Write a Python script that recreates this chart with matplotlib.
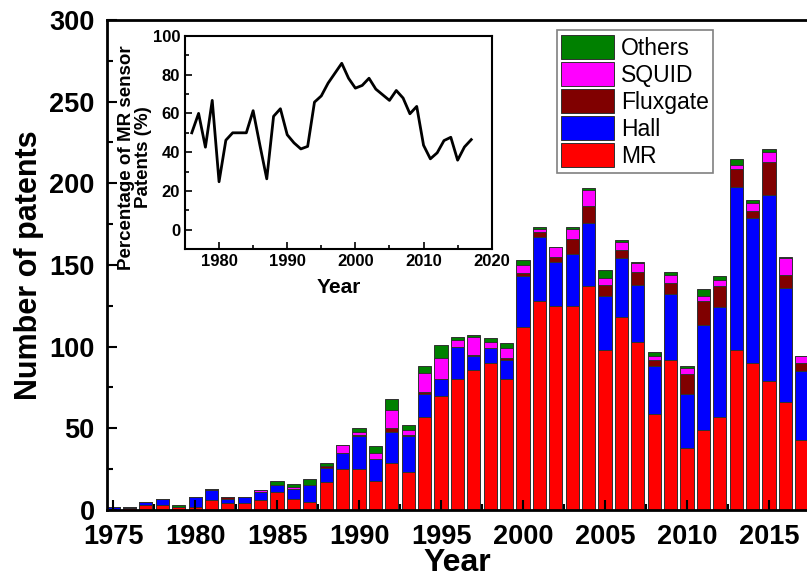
import matplotlib
matplotlib.use("Agg")
import matplotlib.pyplot as plt
from matplotlib.ticker import MultipleLocator

plt.rcParams['font.family'] = ['Liberation Sans', 'DejaVu Sans']

years = [1975, 1976, 1977, 1978, 1979, 1980, 1981, 1982, 1983, 1984,
         1985, 1986, 1987, 1988, 1989, 1990, 1991, 1992, 1993, 1994,
         1995, 1996, 1997, 1998, 1999, 2000, 2001, 2002, 2003, 2004,
         2005, 2006, 2007, 2008, 2009, 2010, 2011, 2012, 2013, 2014,
         2015, 2016, 2017]
mr = [0, 1, 3, 3, 2, 2, 6, 4, 4, 6, 11, 7, 5, 17, 25, 25, 18, 29, 23, 57,
      70, 80, 86, 90, 80, 112, 128, 125, 125, 137, 98, 118, 103, 59, 92, 38,
      49, 57, 98, 90, 79, 66, 43]
hall = [2, 1, 2, 4, 0, 6, 6, 3, 4, 5, 4, 6, 10, 9, 10, 20, 13, 19, 22, 14,
        10, 20, 8, 9, 12, 31, 39, 27, 32, 39, 33, 36, 35, 29, 40, 33, 64, 67,
        100, 89, 114, 70, 42]
fluxgate = [0, 0, 0, 0, 0, 0, 1, 1, 0, 0, 0, 0, 0, 1, 0, 1, 0, 2, 1, 1,
            0, 0, 1, 0, 1, 2, 3, 3, 9, 10, 7, 5, 8, 4, 7, 12, 15, 13, 11, 4,
            20, 8, 5]
squid = [0, 0, 0, 0, 0, 0, 0, 0, 0, 1, 0, 1, 0, 0, 5, 2, 4, 11, 3, 12,
         13, 4, 11, 4, 6, 5, 2, 6, 6, 10, 4, 5, 5, 2, 5, 4, 3, 4, 2, 5,
         6, 10, 4]
others = [0, 0, 0, 0, 1, 0, 0, 0, 0, 0, 3, 2, 4, 2, 0, 2, 4, 7, 3, 4,
          8, 2, 1, 2, 3, 3, 1, 0, 1, 1, 5, 1, 1, 3, 2, 1, 4, 2, 4, 2,
          2, 1, 0]

pct_years = years[1:]
pct_mr = [50, 60, 42.6, 66.7, 24.8, 46.2, 50, 50, 50, 61.4, 43.5, 26.3,
          58.5, 62.4, 49, 44.8, 41.7, 43, 65.8, 69, 75.6, 80.7, 85.8, 78.1,
          73, 74.4, 78.1, 72.5, 69.6, 66.7, 71.8, 67.9, 59.8, 63.6, 43.6,
          36.6, 39.7, 46, 47.7, 35.9, 42.7, 46.5]

series = [("MR", mr, "#ff0000"), ("Hall", hall, "#0000ff"),
          ("Fluxgate", fluxgate, "#800000"), ("SQUID", squid, "#ff00ff"),
          ("Others", others, "#008000")]

fig = plt.figure(figsize=(8.07, 5.79), dpi=100)
ax = fig.add_axes([0.1326, 0.1192, 0.8674, 0.8463])

bottom = [0] * len(years)
handles = []
for name, vals, col in series:
    h = ax.bar(years, vals, width=0.8, bottom=bottom, color=col,
               edgecolor="#303030", linewidth=0.7, label=name)
    handles.append(h)
    bottom = [b + v for b, v in zip(bottom, vals)]

ax.set_xlim(1974.63, 2017.32)
ax.set_ylim(0, 300)
ax.xaxis.set_major_locator(MultipleLocator(5))
ax.xaxis.set_minor_locator(MultipleLocator(2.5))
ax.yaxis.set_major_locator(MultipleLocator(50))
ax.yaxis.set_minor_locator(MultipleLocator(25))
ax.tick_params(which='both', direction='in', width=1.5)
ax.tick_params(which='major', length=7)
ax.tick_params(which='minor', length=4)
ax.tick_params(axis='x', which='major', labelsize=19.5, pad=10)
ax.tick_params(axis='y', which='major', labelsize=19.5, pad=9)
for lab in ax.get_xticklabels() + ax.get_yticklabels():
    lab.set_fontweight('bold')
ax.spines['right'].set_visible(False)
for s in ['left', 'bottom', 'top']:
    ax.spines[s].set_linewidth(2)
ax.set_xlabel("Year", fontsize=23, fontweight='bold', labelpad=-1.5)
ax.set_ylabel("Number of patents", fontsize=22, fontweight='bold', labelpad=4)

leg = ax.legend(handles[::-1], [s[0] for s in series][::-1],
                loc='upper left', bbox_to_anchor=(0.690, 0.948),
                bbox_transform=fig.transFigure, fontsize=16.5,
                handlelength=2.3, handleheight=1.25, labelspacing=0.1,
                handletextpad=0.3, borderpad=0.2, borderaxespad=0,
                fancybox=False, framealpha=1, edgecolor='#808080')
leg.get_frame().set_linewidth(1.2)

ins = fig.add_axes([0.2292, 0.5694, 0.3801, 0.3689])
ins.plot(pct_years, pct_mr, color='black', linewidth=2)
ins.set_xlim(1975, 2020)
ins.set_ylim(-10, 100)
ins.xaxis.set_major_locator(MultipleLocator(10))
ins.xaxis.set_minor_locator(MultipleLocator(5))
ins.yaxis.set_major_locator(MultipleLocator(20))
ins.yaxis.set_minor_locator(MultipleLocator(10))
ins.tick_params(which='both', direction='in', width=1.2)
ins.tick_params(which='major', length=5, labelsize=12)
ins.tick_params(which='minor', length=3)
for lab in ins.get_xticklabels() + ins.get_yticklabels():
    lab.set_fontweight('bold')
for s in ins.spines.values():
    s.set_linewidth(1.5)
ins.set_xlabel("Year", fontsize=15, fontweight='bold', labelpad=6)
ins.set_ylabel("Percentage of MR sensor\nPatents (%)", fontsize=13.5,
               fontweight='bold', linespacing=1.0)
ins.yaxis.set_label_coords(-0.108, 0.43)

fig.savefig("out.png", dpi=100)
